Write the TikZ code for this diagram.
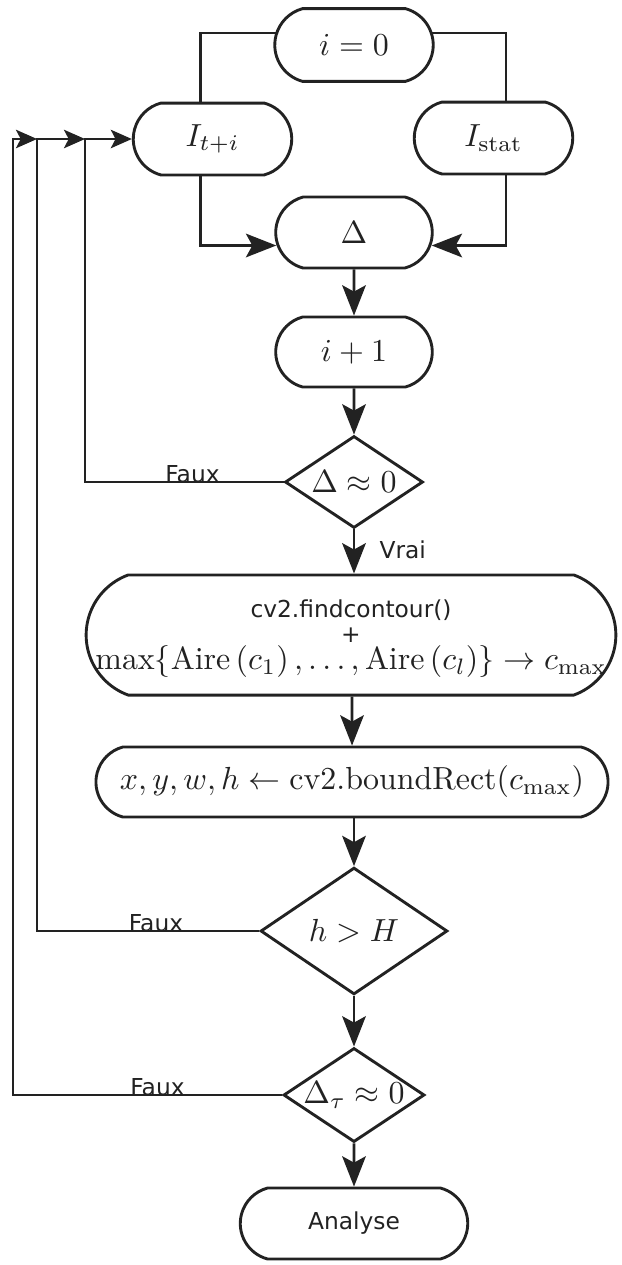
\documentclass[tikz,border=0pt]{standalone}
\usepackage{amsmath}
\usepackage{fontspec}
\newfontfamily\etiq{DejaVu Sans}
\usetikzlibrary{shapes.misc,shapes.geometric,arrows.meta,calc,backgrounds}
\definecolor{trait}{RGB}{34,34,34}
\newcommand{\petit}{\etiq\fontsize{7.3}{8.5}\selectfont}

\begin{document}
\begin{tikzpicture}[x=0.011cm,y=-0.011cm,
  bloc/.style={draw=trait,text=trait,line width=0.9pt,fill=white,rounded rectangle,
    rounded rectangle arc length=150,inner xsep=1pt,inner ysep=2pt},
  test/.style={draw=trait,text=trait,line width=0.9pt,fill=white,diamond,aspect=1.5,inner sep=0pt},
  fleche/.style={draw=trait,line width=0.8pt,-{Stealth[length=9.5pt,width=7.4pt,inset=2pt]}},
  retour/.style={draw=trait,line width=0.6pt,-{Stealth[length=6.6pt,width=5.8pt,inset=1.5pt]}},
  lien/.style={draw=trait,line width=0.7pt},
  etiquette/.style={font=\petit,inner sep=0pt,text=trait},
  ligne/.style={inner sep=0pt,text=trait}]
\useasboundingbox (0,0) rectangle (621,1265);

\node[bloc,minimum width=51.6pt,minimum height=22.8pt] (i0) at (354,45) {$i=0$};
\node[bloc,minimum width=51.6pt,minimum height=22.5pt] (It) at (212.5,139) {$I_{t+i}$};
\node[bloc,minimum width=51.6pt,minimum height=22.5pt] (Istat) at (493.5,138) {$I_{\mathrm{stat}}$};
\node[bloc,minimum width=51pt,minimum height=22.2pt] (delta) at (354,232.5) {$\Delta$};
\node[bloc,minimum width=51pt,minimum height=21.9pt] (incr) at (354,352) {$i+1$};
\node[test,minimum width=43.2pt,minimum height=28.8pt] (test1) at (354,482) {$\Delta\approx 0$};
\node[bloc,rounded rectangle arc length=140,minimum width=167.8pt,minimum height=37.6pt] (contour) at (351,635) {};
\node[ligne,font=\petit] (contour1) at (351,610) {cv2.findcontour()};
\node[ligne,font=\petit] (contour2) at (351,635) {+};
\node[ligne] (contour3) at (351,662)
  {$\max\{\operatorname{Aire}\left(c_1\right),\ldots,\operatorname{Aire}\left(c_l\right)\}\rightarrow c_{\max}$};
\node[bloc,inner xsep=0pt,minimum width=160.3pt,minimum height=21.9pt] (rect) at (352,782)
  {$x,y,w,h\leftarrow \mathrm{cv2.boundRect}(c_{\max})$};
\node[test,minimum width=58.5pt,minimum height=39.7pt] (test2) at (354,931) {$h>H$};
\node[test,minimum width=43.8pt,minimum height=29.4pt] (test3) at (354,1095) {$\Delta_\tau\approx 0$};
\node[bloc,minimum width=73.2pt,minimum height=22.2pt,font=\petit] (analyse) at (354,1223.5) {Analyse};

\begin{scope}[on background layer]
\draw[lien] ($(i0.center)+(0,-12)$) -| ($(It.center)+(-12,0)$);
\draw[lien] ($(i0.center)+(0,-12)$) -| ($(Istat.center)+(12.5,0)$);
\end{scope}

\draw[fleche] ($(It.south)+(-12,0)$) |- ($(delta.west)+(2,13)$);
\draw[fleche] ($(Istat.south)+(12.5,0)$) |- ($(delta.east)+(-2,13)$);
\draw[fleche] (delta) -- (incr);
\draw[fleche] (incr) -- (test1);
\draw[fleche] (test1) -- (test1 |- contour.north);
\draw[fleche] (contour.south -| rect) -- (rect);
\draw[fleche] (rect.south -| test2) -- (test2);
\draw[fleche] (test2) -- (test3);
\draw[fleche] (test3) -- (analyse);

\coordinate (c1) at (85,139);
\coordinate (c2) at (37,139);
\coordinate (c3) at (13,139);
\draw[retour] (test1.west) -| (c1) -- (It.west);
\draw[retour] (test2.west) -| (c2) -- (c1);
\draw[retour] (test3.west) -| (c3) -- (c2);

\node[etiquette,anchor=base] (faux1) at (192.5,482) {Faux};
\node[etiquette,anchor=base] (faux2) at (156,931) {Faux};
\node[etiquette,anchor=base] (faux3) at (157.5,1095) {Faux};
\node[etiquette,anchor=west] (vrai) at (379,550) {Vrai};
\end{tikzpicture}
\end{document}
